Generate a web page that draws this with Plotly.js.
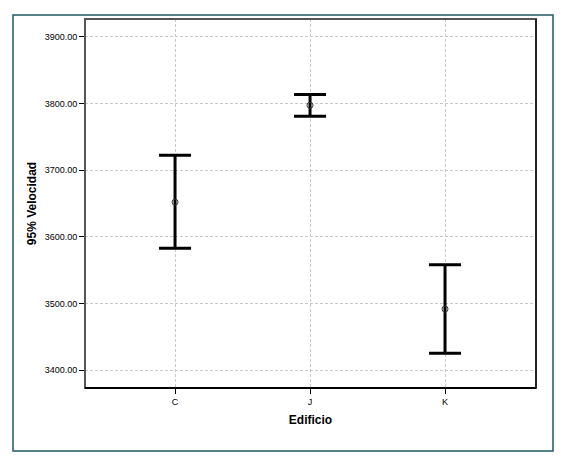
<!DOCTYPE html>
<html>
<head>
<meta charset="utf-8">
<script src="https://cdn.plot.ly/plotly-3.0.1.min.js"></script>
<style>html,body{margin:0;padding:0;background:#fff;}#chart{width:561px;height:460px;}</style>
</head>
<body>
<div id="chart"></div>
<script>
const categories = ["C", "J", "K"];
const means = [3652, 3797.5, 3491.5];
const upper = [3722.5, 3813.5, 3558];
const lower = [3583, 3781, 3425];
const yTickVals = [3400, 3500, 3600, 3700, 3800, 3900];
const yTickText = ["3400.00", "3500.00", "3600.00", "3700.00", "3800.00", "3900.00"];

const trace = {
  type: "scatter",
  mode: "markers",
  x: categories,
  y: means,
  marker: {symbol: "circle-open", size: 6, color: "#333", line: {width: 1, color: "#333"}},
  error_y: {
    type: "data",
    symmetric: false,
    array: upper.map((u, i) => u - means[i]),
    arrayminus: lower.map((l, i) => means[i] - l),
    color: "#000",
    thickness: 3,
    width: 16
  },
  showlegend: false,
  hoverinfo: "none"
};

const layout = {
  width: 561, height: 460,
  margin: {l: 85, r: 25, t: 19, b: 72},
  paper_bgcolor: "#fff", plot_bgcolor: "#fff",
  font: {family: "Liberation Sans, Arial, sans-serif", size: 9, color: "#000"},
  xaxis: {
    type: "category",
    range: [-0.667, 2.674],
    tickvals: categories,
    showgrid: true, gridcolor: "#c8c8c8", griddash: "3px,2px", gridwidth: 1,
    ticks: "outside", ticklen: 5, tickcolor: "#000", tickwidth: 1,
    showline: false, zeroline: false,
    tickfont: {size: 9},
    title: {text: "<b>Edificio</b>", font: {size: 12}, standoff: 9}
  },
  yaxis: {
    range: [3373, 3927],
    tickvals: yTickVals, ticktext: yTickText,
    showgrid: true, gridcolor: "#c8c8c8", griddash: "3px,2px", gridwidth: 1,
    ticks: "outside", ticklen: 5, tickcolor: "#000", tickwidth: 1,
    showline: false, zeroline: false,
    tickfont: {size: 9},
    title: {text: "<b>95% Velocidad</b>", font: {size: 12}, standoff: 5}
  },
  shapes: [
    {type: "rect", xref: "paper", yref: "paper", x0: 0, x1: 1, y0: 0, y1: 1,
     line: {color: "#555", width: 2}, fillcolor: "rgba(0,0,0,0)", layer: "above"},
    {type: "line", xref: "paper", yref: "paper", x0: 0, x1: 1, y0: 0, y1: 0,
     line: {color: "#000", width: 2}, layer: "above"},
    {type: "line", xref: "paper", yref: "paper", x0: 1, x1: 1, y0: 0, y1: 1,
     line: {color: "#222", width: 2}, layer: "above"},
    {type: "rect", xref: "paper", yref: "paper",
     x0: (13 - 85) / 451, x1: (553 - 85) / 451,
     y0: -(451 - 388) / 369, y1: 1 + 4 / 369,
     line: {color: "#1f5a60", width: 1.5}, fillcolor: "rgba(0,0,0,0)", layer: "above"}
  ]
};

Plotly.newPlot("chart", [trace], layout, {staticPlot: true, displayModeBar: false});
</script>
</body>
</html>
